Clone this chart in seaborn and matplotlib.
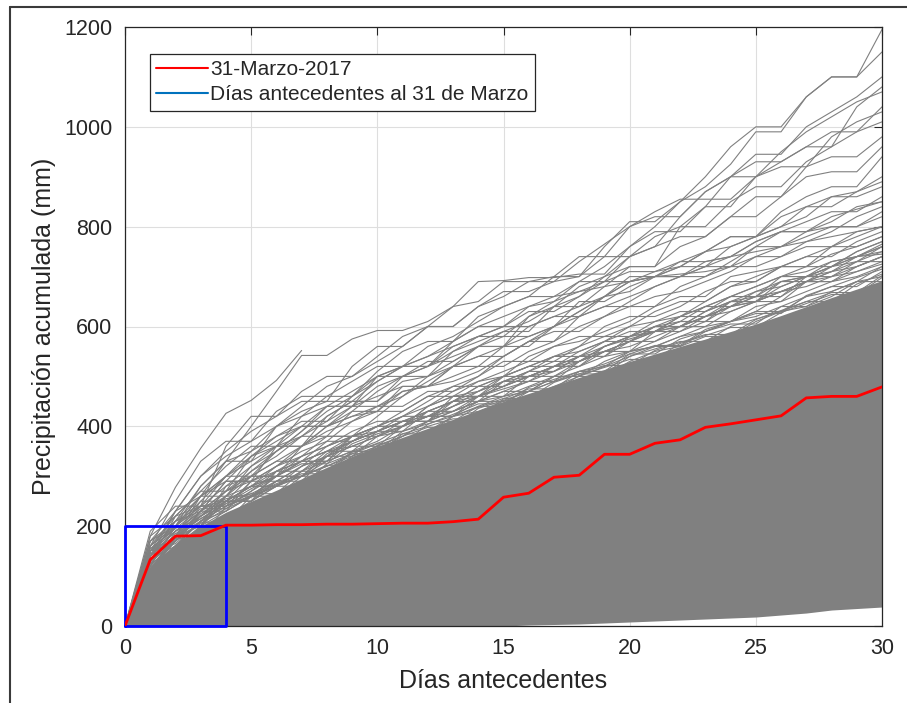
import numpy as np
import pandas as pd
import matplotlib
matplotlib.use("Agg")
import matplotlib.pyplot as plt
from matplotlib.lines import Line2D
import seaborn as sns

# ---------------- data ----------------
days = list(range(31))
red_mm = [0, 133, 180, 181, 202, 202, 203, 203, 204, 204, 205, 206, 206, 209, 214,
          258, 266, 298, 302, 344, 344, 366, 373, 398, 405, 413, 421, 457, 460, 460, 479]

# dense (saturated) band of the historical series
dense_top = [0, 120, 165, 200, 228, 250, 272, 295, 318, 340, 360, 378, 396, 414, 432,
             450, 466, 482, 498, 514, 530, 545, 560, 575, 590, 605, 622, 640, 658, 675, 692]
dense_bottom = [0, 0, 0, 0, 0, 0, 0, 0, 0, 0, 0, 0, 0, 0, 0,
                0, 2, 3, 4, 6, 8, 10, 12, 14, 16, 18, 22, 26, 32, 35, 38]

top_runs = [
    [0,150,230,300,350,390,420,450,450,520,560,560,600,640,650,690,690,690,700,760,810,810,850,880,925,990,990,1060,1100,1100,1195],
    [0,120,200,260,330,400,470,542,542,575,592,592,610,640,690,692,698,698,705,705,760,790,790,840,900,945,945,1000,1030,1060,1100],
    [0,190,240,240,360,420,420,470,500,500,530,560,600,600,640,670,670,690,730,765,800,830,855,855,855,900,930,960,960,1040,1080],
    [0,160,250,330,370,370,430,460,460,490,520,520,560,580,610,640,660,660,690,720,760,800,850,900,960,1000,1000,1060,1100,1100,1150],
    [0,140,200,250,300,340,380,410,410,460,490,520,520,570,600,600,640,650,670,690,690,710,720,750,780,780,830,860,880,880,940],
    [0,170,210,240,280,320,350,390,440,440,480,500,530,530,560,560,600,620,620,660,690,700,700,720,740,770,790,790,820,835,850],
    [0,100,180,240,300,300,350,380,420,450,450,500,520,550,570,590,590,640,680,700,740,780,800,800,850,880,880,930,960,990,1010],
    [0,130,180,260,300,350,400,440,480,500,540,580,600,600,640,660,690,700,700,740,740,760,820,870,900,900,950,990,1020,1050,1070],
    [0,120,200,280,330,330,400,420,460,460,510,550,570,570,620,640,660,700,740,740,800,820,820,870,900,930,930,960,990,990,1040],
    [0,160,220,270,270,340,360,400,440,440,500,520,520,560,580,600,630,630,660,700,720,720,800,840,840,900,920,920,980,1010,1030],
    [0,110,170,230,290,290,360,380,380,430,470,500,500,550,580,580,620,650,690,690,740,760,780,780,820,860,860,920,940,940,980],
    [0,140,210,260,260,320,360,360,420,450,450,490,500,530,560,560,620,640,640,680,720,720,760,780,820,820,860,900,910,910,960],
]
early_run = [0, 180, 278, 356, 426, 452, 492, 552]

high_runs = [
    [0,130,220,270,320,360,360,420,440,470,500,500,520,540,560,590,610,640,660,690,710,710,730,750,760,780,820,840,840,870,890],
    [0,110,180,230,290,340,370,400,400,440,460,480,480,520,540,560,560,600,620,640,660,680,700,700,730,760,760,780,800,800,820],
    [0,150,200,260,300,330,360,360,400,430,430,470,480,500,520,520,550,570,600,620,640,640,680,700,720,720,740,760,760,790,800],
    [0,150,210,280,330,350,380,400,400,420,440,460,490,520,540,540,570,590,590,620,650,680,700,720,720,760,790,810,830,830,860],
    [0,120,170,230,270,310,340,380,410,440,440,470,480,490,510,540,570,570,620,640,640,660,670,690,710,740,740,770,790,820,840],
    [0,90,140,180,220,250,280,300,330,350,370,400,430,430,460,480,500,500,530,550,570,590,620,650,680,700,720,720,760,780,800],
    [0,140,230,300,340,370,400,430,450,450,490,520,540,560,580,600,600,620,640,660,690,700,700,730,740,750,760,790,800,800,830],
    [0,100,160,210,260,310,350,390,430,460,500,520,540,570,600,620,640,660,670,680,690,700,705,710,720,740,760,770,780,790,800],
    [0,180,220,240,250,300,330,330,370,410,440,440,470,470,500,540,570,600,630,660,670,700,720,720,760,780,800,840,860,870,900],
    [0,100,120,200,280,300,300,340,380,380,420,460,500,520,520,560,580,600,650,650,680,700,720,750,780,780,800,820,860,860,880],
    [0,150,180,250,250,280,320,360,400,420,430,480,480,520,560,580,580,600,630,660,700,700,730,730,740,770,790,790,810,840,850],
]

mid_runs = [
    [0,120,170,220,270,300,300,360,390,410,430,430,460,480,500,530,530,560,570,590,610,640,660,660,700,710,720,720,745,760,780],
    [0,140,190,230,230,290,320,350,370,370,400,430,460,460,490,500,520,540,560,580,580,610,620,640,660,680,700,700,730,740,760],
    [0,100,150,200,250,280,280,320,340,370,390,410,410,440,460,480,500,520,520,550,570,590,610,610,640,660,670,690,700,720,740],
    [0,130,180,210,240,270,300,330,330,380,400,420,440,460,460,490,510,510,540,560,580,600,600,620,640,650,670,690,690,710,730],
    [0,110,160,200,230,260,290,290,340,360,380,390,410,430,450,470,470,500,520,540,550,570,590,610,610,640,650,670,690,700,720],
    [0,170,230,260,290,290,310,330,350,360,380,400,420,420,450,460,480,500,500,530,550,560,580,600,610,630,630,660,670,690,700],
    [0,100,160,210,240,260,280,300,300,340,360,380,410,430,450,450,470,490,510,520,540,560,580,590,610,630,660,690,710,730,760],
    [0,150,190,220,250,280,310,340,360,390,410,410,430,450,480,500,500,520,530,560,580,590,600,630,650,670,680,700,720,740,750],
    [0,160,200,200,260,300,330,360,380,380,400,420,450,480,480,500,540,560,580,580,600,630,650,650,680,690,720,740,760,760,780],
    [0,120,200,240,240,260,300,300,340,380,400,400,440,470,490,510,530,530,560,600,620,620,640,670,690,690,720,740,740,770,790],
]

band_runs = [
    [0,140,190,230,260,280,300,300,345,370,390,390,430,450,460,480,500,520,520,560,575,590,590,620,640,650,670,690,690,720,740],
    [0,150,200,200,250,280,300,330,350,350,390,410,420,440,470,490,490,520,540,550,570,570,600,620,630,650,650,690,710,720,740],
    [0,130,170,220,250,250,310,330,350,380,380,410,430,450,450,490,510,530,530,560,580,600,620,620,650,660,690,700,700,730,750],
    [0,160,210,230,270,290,290,320,360,380,390,410,410,460,470,500,520,520,550,570,570,600,610,640,640,670,690,690,720,740,760],
    [0,125,185,215,245,275,300,325,325,365,385,400,420,420,460,475,490,510,540,540,580,590,610,610,650,650,680,700,720,730,730],
    [0,145,175,225,255,265,290,320,340,340,380,400,420,440,460,460,500,510,530,550,550,590,600,620,640,660,660,700,710,740,745],
    [0,170,200,240,240,290,320,340,360,380,400,400,440,460,460,500,520,540,540,570,600,610,630,630,660,680,700,720,720,750,770],
    [0,110,190,220,260,260,300,330,330,370,390,420,420,450,480,480,510,540,550,570,590,590,620,640,660,660,700,710,730,740,765],
    [0,135,160,210,250,280,280,310,340,360,360,400,420,430,450,470,490,490,530,550,560,580,600,600,630,650,670,680,700,710,725],
    [0,155,195,235,235,270,310,310,350,370,390,410,410,450,470,490,500,520,540,540,570,600,600,630,650,650,690,700,720,750,770],
]

low_runs = [
    [0,130,180,215,245,265,265,310,330,350,350,390,405,420,440,440,470,490,505,505,540,555,570,570,600,615,630,650,650,685,705],
    [0,125,175,175,240,262,285,305,305,348,366,385,385,420,438,456,456,488,505,522,522,552,568,584,584,614,632,650,668,668,702],
    [0,140,180,220,250,250,290,300,320,345,345,385,400,415,415,455,475,475,510,525,545,545,575,590,605,605,640,660,680,680,710],
    [0,115,170,205,235,258,280,280,325,345,365,365,404,424,445,445,478,494,510,510,545,562,562,594,610,626,626,662,680,698,715],
    [0,135,172,208,208,260,283,300,322,322,362,380,398,398,436,452,470,470,502,518,534,534,566,582,598,598,628,646,664,664,698],
    [0,150,165,210,230,260,260,300,320,340,360,360,390,420,430,450,460,480,500,500,530,550,560,580,580,610,630,640,660,690,690],
    [0,110,180,200,250,250,280,310,310,350,350,380,410,410,440,460,470,500,500,520,550,560,560,590,610,620,640,640,670,690,720],
]

x_ticks = [0, 5, 10, 15, 20, 25, 30]
y_ticks = [0, 200, 400, 600, 800, 1000, 1200]
window_days = 4
window_mm = 200

# ---------------- long-form table for seaborn ----------------
rows = []
uid = 0
for group in (top_runs, high_runs, mid_runs, band_runs, low_runs, [early_run]):
    for run in group:
        for d, v in zip(days, run):
            rows.append((uid, d, v))
        uid += 1
grey_df = pd.DataFrame(rows, columns=["serie", "dia", "mm"])
red_df = pd.DataFrame({"dia": days, "mm": red_mm})

# ---------------- style ----------------
sns.set_style("white")
plt.rcParams["font.family"] = ["Liberation Sans", "DejaVu Sans"]

fig = plt.figure(figsize=(9.07, 7.03), dpi=100)
ax = fig.add_axes([125/907, 1 - 626/703, (882-125)/907, (626-27)/703])

ax.grid(True, color="#dedede", lw=0.8, zorder=0)
ax.set_axisbelow(True)

ax.fill_between(days, dense_bottom, dense_top, color="#808080", lw=0, zorder=2)
sns.lineplot(data=grey_df, x="dia", y="mm", units="serie", estimator=None,
             color="#808080", lw=0.8, ax=ax, legend=False, zorder=2)

# blue window rectangle
ax.plot([0, window_days, window_days, 0, 0], [0, 0, window_mm, window_mm, 0],
        color="#0000ff", lw=2, zorder=3, clip_on=False)

sns.lineplot(data=red_df, x="dia", y="mm", color="#ff0000", lw=2, ax=ax,
             legend=False, zorder=4)

ax.set_xlim(0, 30)
ax.set_ylim(0, 1200)
ax.set_xticks(x_ticks)
ax.set_yticks(y_ticks)
ax.tick_params(direction="in", length=6, width=0.8, top=True, right=True,
               labelsize=15.5, colors="#262626", pad=9)
for s in ax.spines.values():
    s.set_color("#262626")
    s.set_linewidth(0.9)
ax.set_xlabel("Días antecedentes", fontsize=18, color="#262626", labelpad=7)
ax.set_ylabel("Precipitación acumulada (mm)", fontsize=18, color="#262626", labelpad=6)

handles = [Line2D([], [], color="#ff0000", lw=1.5),
           Line2D([], [], color="#0072BD", lw=1.5)]
leg = ax.legend(handles, ["31-Marzo-2017", "Días antecedentes al 31 de Marzo"],
                loc="upper left", bbox_to_anchor=(0.033, 0.955), borderaxespad=0,
                fontsize=15, frameon=True, fancybox=False, framealpha=1,
                handlelength=2.5, handletextpad=0.1, borderpad=0.3,
                labelspacing=0.3)
leg.get_frame().set_edgecolor("#262626")
leg.get_frame().set_linewidth(0.9)
leg.set_zorder(10)

# outer window frame (top and left)
fig.add_artist(Line2D([10/907, 10/907], [0, 1 - 7/703], color="#3a3a3a", lw=1.5,
                      transform=fig.transFigure))
fig.add_artist(Line2D([10/907, 1], [1 - 7/703, 1 - 7/703], color="#3a3a3a", lw=1.5,
                      transform=fig.transFigure))

fig.savefig("out.png", dpi=100)
